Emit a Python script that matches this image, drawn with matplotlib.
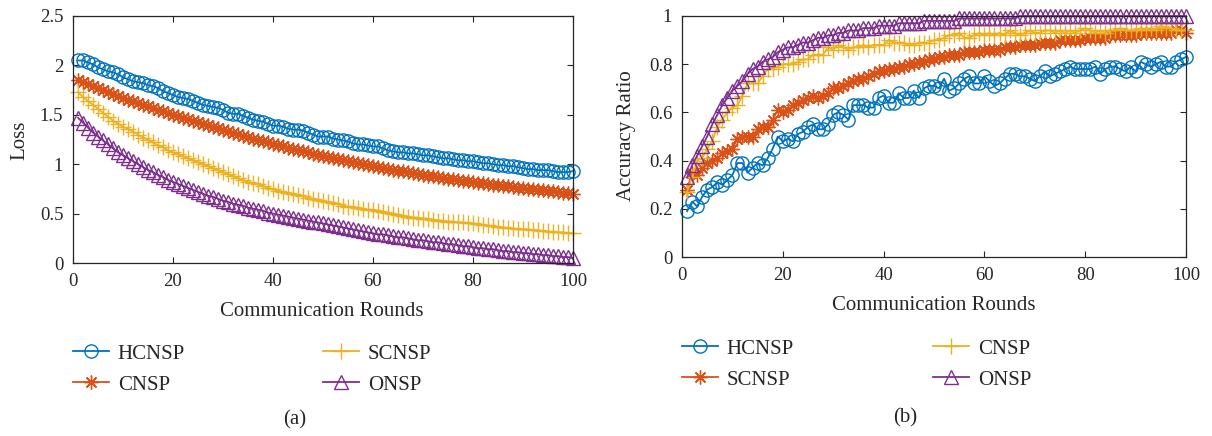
import matplotlib
matplotlib.use("Agg")
import matplotlib.pyplot as plt

rounds = list(range(1, 101))

loss_hcnsp = [2.05, 2.05, 2.03, 2.01, 1.98, 1.96, 1.94, 1.93, 1.91, 1.88,
              1.86, 1.84, 1.83, 1.82, 1.80, 1.79, 1.77, 1.74, 1.72, 1.70,
              1.68, 1.67, 1.66, 1.64, 1.62, 1.60, 1.59, 1.58, 1.57, 1.55,
              1.52, 1.51, 1.51, 1.49, 1.47, 1.45, 1.44, 1.43, 1.41, 1.39,
              1.39, 1.38, 1.36, 1.35, 1.35, 1.34, 1.32, 1.30, 1.28, 1.28,
              1.28, 1.26, 1.25, 1.24, 1.23, 1.21, 1.20, 1.20, 1.19, 1.18,
              1.18, 1.16, 1.14, 1.13, 1.12, 1.12, 1.11, 1.11, 1.10, 1.09,
              1.09, 1.08, 1.07, 1.06, 1.06, 1.05, 1.04, 1.04, 1.03, 1.03,
              1.02, 1.01, 1.01, 1.00, 0.99, 0.99, 0.98, 0.98, 0.97, 0.96,
              0.95, 0.95, 0.94, 0.94, 0.94, 0.93, 0.92, 0.92, 0.92, 0.93]
loss_cnsp = [1.85, 1.83, 1.81, 1.79, 1.77, 1.75, 1.73, 1.71, 1.69, 1.67,
             1.65, 1.64, 1.62, 1.60, 1.59, 1.57, 1.55, 1.54, 1.52, 1.50,
             1.49, 1.47, 1.46, 1.44, 1.43, 1.41, 1.40, 1.38, 1.37, 1.35,
             1.34, 1.32, 1.31, 1.29, 1.28, 1.26, 1.25, 1.23, 1.22, 1.20,
             1.19, 1.18, 1.16, 1.15, 1.14, 1.13, 1.12, 1.10, 1.09, 1.08,
             1.07, 1.06, 1.05, 1.04, 1.03, 1.02, 1.01, 1.00, 0.99, 0.98,
             0.97, 0.96, 0.95, 0.94, 0.93, 0.93, 0.92, 0.91, 0.90, 0.89,
             0.88, 0.88, 0.87, 0.86, 0.85, 0.85, 0.84, 0.83, 0.83, 0.82,
             0.81, 0.81, 0.80, 0.79, 0.79, 0.78, 0.78, 0.77, 0.76, 0.76,
             0.75, 0.75, 0.74, 0.74, 0.73, 0.73, 0.72, 0.71, 0.71, 0.70]
loss_scnsp = [1.73, 1.68, 1.64, 1.60, 1.56, 1.52, 1.48, 1.44, 1.41, 1.38,
              1.36, 1.33, 1.30, 1.27, 1.25, 1.22, 1.19, 1.17, 1.14, 1.12,
              1.10, 1.08, 1.06, 1.04, 1.02, 1.00, 0.98, 0.96, 0.94, 0.92,
              0.90, 0.88, 0.86, 0.84, 0.82, 0.81, 0.80, 0.78, 0.76, 0.75,
              0.73, 0.72, 0.71, 0.70, 0.69, 0.68, 0.66, 0.65, 0.64, 0.63,
              0.62, 0.61, 0.60, 0.58, 0.57, 0.57, 0.56, 0.55, 0.54, 0.54,
              0.53, 0.52, 0.51, 0.50, 0.49, 0.48, 0.47, 0.46, 0.46, 0.45,
              0.45, 0.44, 0.43, 0.43, 0.42, 0.42, 0.41, 0.41, 0.40, 0.40,
              0.39, 0.38, 0.38, 0.37, 0.36, 0.36, 0.35, 0.35, 0.34, 0.34,
              0.34, 0.33, 0.33, 0.32, 0.32, 0.31, 0.31, 0.31, 0.30, 0.30]
loss_onsp = [1.47, 1.42, 1.37, 1.32, 1.28, 1.24, 1.20, 1.16, 1.12, 1.09,
             1.06, 1.03, 1.00, 0.97, 0.94, 0.92, 0.89, 0.87, 0.84, 0.82,
             0.80, 0.78, 0.76, 0.74, 0.72, 0.70, 0.68, 0.67, 0.65, 0.63,
             0.62, 0.60, 0.59, 0.58, 0.56, 0.55, 0.54, 0.53, 0.51, 0.50,
             0.49, 0.48, 0.47, 0.46, 0.45, 0.44, 0.43, 0.42, 0.41, 0.40,
             0.39, 0.38, 0.37, 0.36, 0.35, 0.34, 0.33, 0.32, 0.31, 0.30,
             0.29, 0.29, 0.28, 0.27, 0.26, 0.26, 0.25, 0.24, 0.23, 0.23,
             0.22, 0.21, 0.21, 0.20, 0.19, 0.19, 0.18, 0.17, 0.17, 0.16,
             0.15, 0.15, 0.14, 0.14, 0.13, 0.12, 0.12, 0.11, 0.11, 0.10,
             0.10, 0.09, 0.09, 0.08, 0.08, 0.07, 0.07, 0.06, 0.06, 0.05]

acc_hcnsp = [0.19, 0.23, 0.21, 0.25, 0.28, 0.29, 0.31, 0.30, 0.32, 0.34,
             0.39, 0.39, 0.35, 0.37, 0.39, 0.38, 0.41, 0.45, 0.50, 0.48,
             0.49, 0.48, 0.51, 0.52, 0.54, 0.55, 0.53, 0.53, 0.55, 0.59,
             0.60, 0.59, 0.57, 0.63, 0.63, 0.63, 0.62, 0.62, 0.66, 0.67,
             0.64, 0.64, 0.68, 0.66, 0.66, 0.69, 0.66, 0.70, 0.71, 0.71,
             0.70, 0.74, 0.69, 0.70, 0.72, 0.74, 0.75, 0.72, 0.72, 0.75,
             0.73, 0.71, 0.72, 0.74, 0.76, 0.76, 0.75, 0.75, 0.74, 0.73,
             0.75, 0.77, 0.75, 0.76, 0.77, 0.78, 0.79, 0.78, 0.78, 0.78,
             0.78, 0.79, 0.76, 0.78, 0.79, 0.79, 0.78, 0.77, 0.79, 0.77,
             0.81, 0.80, 0.79, 0.80, 0.81, 0.79, 0.79, 0.81, 0.82, 0.83]
acc_scnsp = [0.28, 0.35, 0.34, 0.37, 0.39, 0.40, 0.41, 0.43, 0.44, 0.45,
             0.49, 0.50, 0.50, 0.50, 0.53, 0.54, 0.54, 0.57, 0.61, 0.60,
             0.61, 0.63, 0.64, 0.65, 0.66, 0.67, 0.66, 0.67, 0.68, 0.70,
             0.70, 0.71, 0.72, 0.73, 0.74, 0.74, 0.75, 0.76, 0.77, 0.77,
             0.78, 0.78, 0.79, 0.79, 0.80, 0.80, 0.81, 0.81, 0.82, 0.82,
             0.83, 0.83, 0.84, 0.84, 0.84, 0.85, 0.85, 0.85, 0.85, 0.86,
             0.86, 0.86, 0.86, 0.87, 0.87, 0.87, 0.88, 0.88, 0.88, 0.88,
             0.89, 0.89, 0.89, 0.89, 0.90, 0.90, 0.90, 0.90, 0.90, 0.91,
             0.91, 0.91, 0.91, 0.91, 0.92, 0.92, 0.92, 0.92, 0.92, 0.92,
             0.93, 0.93, 0.93, 0.93, 0.93, 0.93, 0.93, 0.94, 0.94, 0.93]
acc_cnsp = [0.27, 0.33, 0.40, 0.41, 0.45, 0.48, 0.54, 0.57, 0.60, 0.62,
            0.63, 0.67, 0.72, 0.72, 0.72, 0.75, 0.78, 0.78, 0.79, 0.80,
            0.80, 0.80, 0.81, 0.82, 0.82, 0.84, 0.84, 0.84, 0.87, 0.86,
            0.88, 0.87, 0.86, 0.87, 0.87, 0.88, 0.87, 0.88, 0.88, 0.88,
            0.90, 0.89, 0.89, 0.89, 0.88, 0.88, 0.89, 0.89, 0.89, 0.90,
            0.90, 0.91, 0.92, 0.92, 0.93, 0.91, 0.91, 0.92, 0.93, 0.92,
            0.93, 0.92, 0.93, 0.92, 0.94, 0.93, 0.92, 0.93, 0.94, 0.93,
            0.93, 0.94, 0.94, 0.93, 0.94, 0.93, 0.94, 0.93, 0.94, 0.95,
            0.94, 0.93, 0.94, 0.93, 0.94, 0.94, 0.95, 0.94, 0.94, 0.94,
            0.95, 0.94, 0.95, 0.94, 0.96, 0.95, 0.95, 0.94, 0.94, 0.94]
acc_onsp = [0.33, 0.38, 0.42, 0.46, 0.50, 0.55, 0.59, 0.63, 0.66, 0.69,
            0.71, 0.73, 0.76, 0.78, 0.79, 0.81, 0.82, 0.83, 0.85, 0.86,
            0.87, 0.87, 0.88, 0.89, 0.89, 0.90, 0.91, 0.91, 0.92, 0.92,
            0.93, 0.93, 0.94, 0.94, 0.94, 0.95, 0.95, 0.95, 0.96, 0.96,
            0.96, 0.96, 0.97, 0.97, 0.97, 0.97, 0.97, 0.98, 0.98, 0.98,
            0.98, 0.98, 0.98, 0.98, 0.99, 0.99, 0.99, 0.99, 0.99, 0.99,
            0.99, 0.99, 0.99, 0.99, 0.99, 0.99, 1.00, 1.00, 1.00, 1.00,
            1.00, 1.00, 1.00, 1.00, 1.00, 1.00, 1.00, 1.00, 1.00, 1.00,
            1.00, 1.00, 1.00, 1.00, 1.00, 1.00, 1.00, 1.00, 1.00, 1.00,
            1.00, 1.00, 1.00, 1.00, 1.00, 1.00, 1.00, 1.00, 1.00, 1.00]

loss_yticks = [0, 0.5, 1, 1.5, 2, 2.5]
loss_yticklabels = ["0", "0.5", "1", "1.5", "2", "2.5"]
acc_yticks = [0, 0.2, 0.4, 0.6, 0.8, 1]
acc_yticklabels = ["0", "0.2", "0.4", "0.6", "0.8", "1"]
xticks = [0, 20, 40, 60, 80, 100]

BLUE = "#0072BD"
ORANGE = "#D95319"
YELLOW = "#EDB120"
PURPLE = "#7E2F8E"
ASTER = (8, 2, 0)
INK = "#262626"

plt.rcParams["font.family"] = ["Liberation Serif", "DejaVu Serif"]

W, H = 1212, 436
fig = plt.figure(figsize=(W / 100, H / 100), dpi=100)


def px_axes(x0, y0, x1, y1):
    return fig.add_axes([x0 / W, 1 - y1 / H, (x1 - x0) / W, (y1 - y0) / H])


def style(ax, yticks, ylabels, ymax):
    ax.set_xlim(0, 100)
    ax.set_ylim(0, ymax)
    ax.set_xticks(xticks)
    ax.set_xticklabels([str(t) for t in xticks])
    ax.set_yticks(yticks)
    ax.set_yticklabels(ylabels)
    ax.tick_params(direction="in", length=4, width=0.8, top=True, right=True,
                   labelsize=13.5, colors=INK, pad=7)
    for s in ax.spines.values():
        s.set_color(INK)
        s.set_linewidth(0.9)


lw = 1.3
mew = 1.0
MS = {"o": 9.5, ASTER: 10, "+": 12, "^": 9.5}

# ---- panel (a)
ax1 = px_axes(73, 16, 573, 263)
series_a = [
    ("HCNSP", loss_hcnsp, BLUE, "o"),
    ("CNSP", loss_cnsp, ORANGE, ASTER),
    ("SCNSP", loss_scnsp, YELLOW, "+"),
    ("ONSP", loss_onsp, PURPLE, "^"),
]
handles_a = []
for name, vals, col, mk in series_a:
    ln, = ax1.plot(rounds, vals, color=col, marker=mk, markersize=MS[mk],
                   markerfacecolor="none", markeredgecolor=col,
                   markeredgewidth=mew, linewidth=lw, label=name, clip_on=False)
    handles_a.append(ln)
style(ax1, loss_yticks, loss_yticklabels, 2.5)
fig.text(322 / W, 1 - 311 / H, "Communication Rounds", ha="center", va="center",
         fontsize=15, color=INK)
fig.text(20 / W, 1 - 140 / H, "Loss", ha="center", va="center", rotation=90,
         fontsize=15, color=INK)

# ---- panel (b)
ax2 = px_axes(682, 16, 1186, 257)
series_b = [
    ("HCNSP", acc_hcnsp, BLUE, "o"),
    ("SCNSP", acc_scnsp, ORANGE, ASTER),
    ("CNSP", acc_cnsp, YELLOW, "+"),
    ("ONSP", acc_onsp, PURPLE, "^"),
]
handles_b = []
for name, vals, col, mk in series_b:
    ln, = ax2.plot(rounds, vals, color=col, marker=mk, markersize=MS[mk],
                   markerfacecolor="none", markeredgecolor=col,
                   markeredgewidth=mew, linewidth=lw, label=name, clip_on=False)
    handles_b.append(ln)
style(ax2, acc_yticks, acc_yticklabels, 1.0)
fig.text(934 / W, 1 - 305 / H, "Communication Rounds", ha="center", va="center",
         fontsize=15, color=INK)
fig.text(627 / W, 1 - 136 / H, "Accuracy Ratio", ha="center", va="center",
         rotation=90, fontsize=15, color=INK)


def add_leg(handles, x, y):
    leg = fig.legend(handles=handles, loc="upper left",
                     bbox_to_anchor=(x / W, 1 - y / H), frameon=False,
                     borderpad=0, borderaxespad=0, handlelength=1.75,
                     handletextpad=0.4, labelspacing=0.55, fontsize=15)
    for t in leg.get_texts():
        t.set_color(INK)
    return leg


add_leg(handles_a[:2], 73, 344)
add_leg(handles_a[2:], 323, 344)
add_leg(handles_b[:2], 682, 339)
add_leg(handles_b[2:], 933, 339)

fig.text(295 / W, 1 - 420 / H, "(a)", ha="center", va="center", fontsize=15, color=INK)
fig.text(905 / W, 1 - 418 / H, "(b)", ha="center", va="center", fontsize=15, color=INK)

fig.savefig("out.png", dpi=100)
